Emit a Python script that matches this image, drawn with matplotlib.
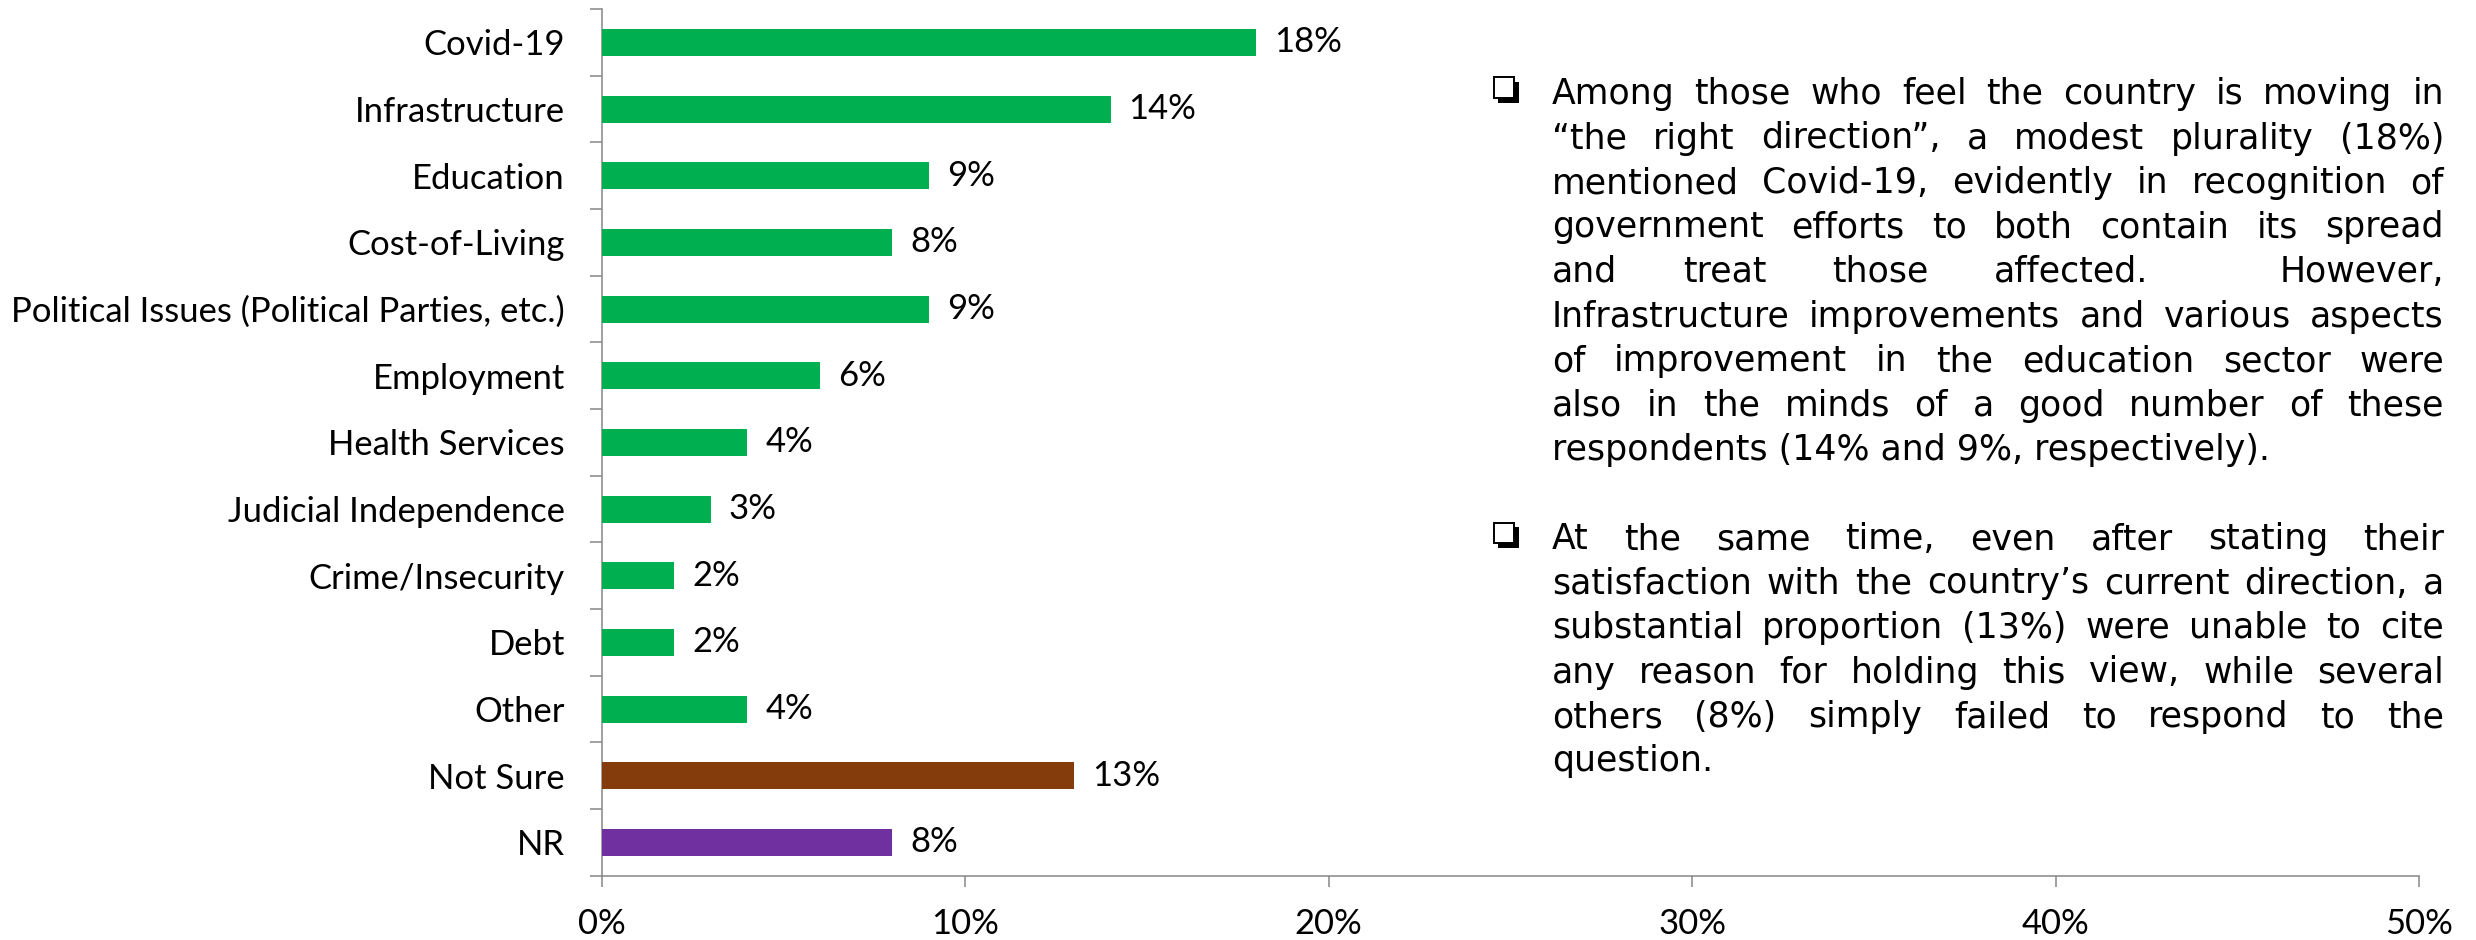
import matplotlib
matplotlib.use("Agg")
import matplotlib.pyplot as plt
from matplotlib.patches import Rectangle
from matplotlib.ticker import FixedLocator, FuncFormatter

# ---- data -------------------------------------------------------------
categories = [
    "Covid-19",
    "Infrastructure",
    "Education",
    "Cost-of-Living",
    "Political Issues (Political Parties, etc.)",
    "Employment",
    "Health Services",
    "Judicial Independence",
    "Crime/Insecurity",
    "Debt",
    "Other",
    "Not Sure",
    "NR",
]
values = [18, 14, 9, 8, 9, 6, 4, 3, 2, 2, 4, 13, 8]
bar_colors = ["#00B050"] * 11 + ["#843C0C", "#7030A0"]
x_ticks = [0, 10, 20, 30, 40, 50]

paragraph_1 = [
    "Among those who feel the country is moving in",
    "\u201cthe right direction\u201d, a modest plurality (18%)",
    "mentioned Covid-19, evidently in recognition of",
    "government efforts to both contain its spread",
    "and treat those affected.  However,",
    "Infrastructure improvements and various aspects",
    "of improvement in the education sector were",
    "also in the minds of a good number of these",
    "respondents (14% and 9%, respectively).",
]
paragraph_2 = [
    "At the same time, even after stating their",
    "satisfaction with the country\u2019s current direction, a",
    "substantial proportion (13%) were unable to cite",
    "any reason for holding this view, while several",
    "others (8%) simply failed to respond to the",
    "question.",
]

# ---- figure -----------------------------------------------------------
W, H, DPI = 2476, 940, 100
fig = plt.figure(figsize=(W / DPI, H / DPI), dpi=DPI)
renderer = fig.canvas.get_renderer()

LABEL_FONT = "Lato"
AXIS_GREY = "#868686"

# size the chart font so the longest category label spans its usual width
probe = fig.text(0, 0, categories[4], fontsize=26, family=LABEL_FONT)
probe_w = probe.get_window_extent(renderer).width
probe.remove()
label_size = 26 * 553 / probe_w


def fx(px):
    return px / W


def fy(py):
    return 1 - py / H


ax = fig.add_axes([fx(601.7), fy(875.7), fx(2419) - fx(601.7), fy(9) - fy(875.7)])

ypos = list(range(len(categories)))
bars = ax.barh(ypos, values, height=0.405, color=bar_colors, zorder=3)

ax.set_xlim(0, 50)
ax.set_ylim(len(categories) - 0.5, -0.5)

# value labels
for y, v in zip(ypos, values):
    ax.annotate(f"{v}%", xy=(v, y), xytext=(13, 0), textcoords="offset points",
                va="center", ha="left", fontsize=label_size, family=LABEL_FONT,
                color="black")

# x axis
ax.set_xticks(x_ticks)
ax.xaxis.set_major_formatter(FuncFormatter(lambda v, p: f"{v:.0f}%"))
ax.tick_params(axis="x", direction="out", length=8, width=1.1, color=AXIS_GREY,
               pad=15, labelsize=label_size)

# y axis: ticks on category boundaries, labels centred on each bar
ax.yaxis.set_major_locator(FixedLocator([i - 0.5 for i in range(len(categories) + 1)]))
ax.yaxis.set_major_formatter(FuncFormatter(lambda v, p: ""))
ax.yaxis.set_minor_locator(FixedLocator(ypos))
ax.set_yticklabels(categories, minor=True)
ax.tick_params(axis="y", which="major", direction="out", length=8.6, width=1.1,
               color=AXIS_GREY)
ax.tick_params(axis="y", which="minor", length=0, pad=26.5, labelsize=label_size)

for lbl in ax.get_xticklabels() + ax.get_yticklabels(minor=True):
    lbl.set_family(LABEL_FONT)

for side in ("top", "right"):
    ax.spines[side].set_visible(False)
for side in ("left", "bottom"):
    ax.spines[side].set_color(AXIS_GREY)
    ax.spines[side].set_linewidth(1.1)

# ---- commentary text --------------------------------------------------
TEXT_FONT = "DejaVu Sans"
text_size = 25.0
left_px, right_px = 1552, 2444
line_step = 44.5
first_base = 104


def draw_bullet(base_y):
    top = base_y - 27
    # shadow
    fig.add_artist(Rectangle((fx(1498), fy(top + 26)), fx(21), 21 / H,
                             transform=fig.transFigure, facecolor="black",
                             edgecolor="none"))
    # white box
    fig.add_artist(Rectangle((fx(1493.5), fy(top + 21)), fx(20.5), 20.5 / H,
                             transform=fig.transFigure, facecolor="white",
                             edgecolor="black", linewidth=1.4))


def word_width(w):
    t = fig.text(0, 0, w, fontsize=text_size, family=TEXT_FONT)
    wd = t.get_window_extent(renderer).width
    t.remove()
    return wd


def draw_paragraph(lines, start_line):
    draw_bullet(first_base + start_line * line_step)
    for i, line in enumerate(lines):
        base = first_base + (start_line + i) * line_step
        if i == len(lines) - 1:
            fig.text(fx(left_px), fy(base), line, fontsize=text_size,
                     family=TEXT_FONT, va="baseline", ha="left")
            continue
        # justify: spread words across the full column width
        parts = line.split(" ")
        words, weights = [], []
        gap = 0
        for p in parts:
            if p == "":
                gap += 1
                continue
            if words:
                weights.append(gap + 1)
            words.append(p)
            gap = 0
        widths = [word_width(w) for w in words]
        spare = (right_px - left_px) - sum(widths)
        unit = spare / sum(weights)
        x = left_px
        for k, (w, wd) in enumerate(zip(words, widths)):
            fig.text(fx(x), fy(base), w, fontsize=text_size, family=TEXT_FONT,
                     va="baseline", ha="left")
            if k < len(weights):
                x += wd + unit * weights[k]


draw_paragraph(paragraph_1, 0)
draw_paragraph(paragraph_2, 10)

fig.savefig("out.png", dpi=DPI, facecolor="white")
